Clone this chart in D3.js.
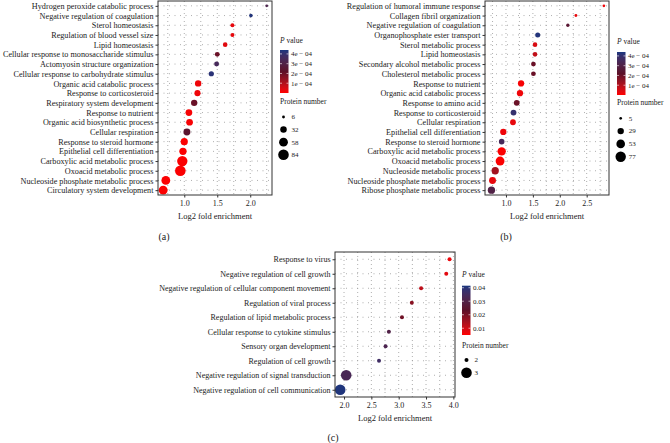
<!DOCTYPE html>
<html><head><meta charset="utf-8">
<script src="https://cdn.jsdelivr.net/npm/d3@7/dist/d3.min.js"></script>
<style>
body{margin:0;background:#fff;}
svg text{font-family:"Liberation Serif","DejaVu Serif",serif;fill:#222;}
</style></head>
<body><svg id="c" width="670" height="443"></svg>
<script>
// ---------- Panel (a) ----------
const termsA = ["Hydrogen peroxide catabolic process","Negative regulation of coagulation","Sterol homeostasis","Regulation of blood vessel size","Lipid homeostasis","Cellular response to monosaccharide stimulus","Actomyosin structure organization","Cellular response to carbohydrate stimulus","Organic acid catabolic process","Response to corticosteroid","Respiratory system development","Response to nutrient","Organic acid biosynthetic process","Cellular respiration","Response to steroid hormone","Epithelial cell differentiation","Carboxylic acid metabolic process","Oxoacid metabolic process","Nucleoside phosphate metabolic process","Circulatory system development"];
const foldA = [2.25,2.01,1.73,1.73,1.62,1.50,1.49,1.41,1.21,1.20,1.15,1.07,1.08,1.04,1.00,0.98,0.97,0.94,0.72,0.68];
const pA = [3.2e-4,4.3e-4,0.3e-4,0.3e-4,0.4e-4,2.0e-4,3.5e-4,4.2e-4,0.2e-4,0.2e-4,2.0e-4,0.1e-4,0.1e-4,2.4e-4,0.05e-4,0.05e-4,0.05e-4,0.05e-4,0.05e-4,0.05e-4];
const countA = [6,10,12,12,16,18,18,20,30,28,30,34,34,36,38,40,80,84,58,58];
const xTicksA = [1.0,1.5,2.0];
const pTicksA = [4e-4,3e-4,2e-4,1e-4];
const pLabelsA = ["4e − 04","3e − 04","2e − 04","1e − 04"];
const sizeTicksA = [6,32,58,84];

// ---------- Panel (b) ----------
const termsB = ["Regulation of humoral immune response","Collagen fibril organization","Negative regulation of coagulation","Organophosphate ester transport","Sterol metabolic process","Lipid homeostasis","Secondary alcohol metabolic process","Cholesterol metabolic process","Response to nutrient","Organic acid catabolic process","Response to amino acid","Response to corticosteroid","Cellular respiration","Epithelial cell differentiation","Response to steroid hormone","Carboxylic acid metabolic process","Oxoacid metabolic process","Nucleoside metabolic process","Nucleoside phosphate metabolic process","Ribose phosphate metabolic process"];
const foldB = [2.82,2.30,2.15,1.59,1.54,1.54,1.51,1.51,1.28,1.26,1.20,1.14,1.13,0.95,0.92,0.92,0.89,0.80,0.75,0.73];
const pB = [0.2e-4,0.3e-4,2.5e-4,4.3e-4,0.5e-4,0.8e-4,2.0e-4,2.0e-4,0.1e-4,0.2e-4,2.0e-4,4.0e-4,0.3e-4,0.2e-4,3.5e-4,0.05e-4,0.05e-4,1.2e-4,0.3e-4,3.0e-4];
const countB = [5,6,8,18,15,15,16,16,28,28,24,24,24,28,22,50,56,38,34,38];
const xTicksB = [1.0,1.5,2.0,2.5];
const pTicksB = [4e-4,3e-4,2e-4,1e-4];
const pLabelsB = ["4e − 04","3e − 04","2e − 04","1e − 04"];
const sizeTicksB = [5,29,53,77];

// ---------- Panel (c) ----------
const termsC = ["Response to virus","Negative regulation of cell growth","Negative regulation of cellular component movement","Regulation of viral process","Regulation of lipid metabolic process","Cellular response to cytokine stimulus","Sensory organ development","Regulation of cell growth","Negative regulation of signal transduction","Negative regulation of cell communication"];
const foldC = [3.93,3.87,3.41,3.24,3.06,2.82,2.76,2.64,2.04,1.93];
const pC = [0.007,0.008,0.012,0.018,0.021,0.030,0.032,0.036,0.033,0.041];
const countC = [2,2,2,2,2,2,2,2,3,3];
const xTicksC = [2.0,2.5,3.0,3.5,4.0];
const pTicksC = [0.04,0.03,0.02,0.01];
const pLabelsC = ["0.04","0.03","0.02","0.01"];
const sizeTicksC = [2,3];

const svg = d3.select("#c");
const defs = svg.append("defs");

function panel(o){
  const g = svg.append("g");
  const x = d3.scaleLinear().domain(o.xDom).range([o.x0,o.x1]);
  const y = d3.scalePoint().domain(o.terms).range([o.y0,o.y1]).padding(0.5);
  const col = d3.scaleLinear().domain(o.pDom).range(["#ff0000","#5c1028","#19367f"]).interpolate(d3.interpolateLab).clamp(true);
  const r = o.rScale;
  // grid
  const minor = d3.range(Math.ceil(o.xDom[0]/0.25)*0.25, o.xDom[1], 0.25);
  g.selectAll(".vg").data(minor).join("line")
    .attr("x1",d=>x(d)).attr("x2",d=>x(d)).attr("y1",o.y0).attr("y2",o.y1)
    .attr("stroke","#9a9a9a").attr("stroke-width",0.8).attr("stroke-dasharray","1,3");
  g.selectAll(".hg").data(o.terms).join("line")
    .attr("x1",o.x0).attr("x2",o.x1).attr("y1",d=>y(d)).attr("y2",d=>y(d))
    .attr("stroke","#9a9a9a").attr("stroke-width",0.8).attr("stroke-dasharray","1,4.5");
  // points
  g.selectAll(".pt").data(o.terms).join("circle")
    .attr("cx",(d,i)=>x(o.fold[i])).attr("cy",d=>y(d))
    .attr("r",(d,i)=>r(o.count[i])).attr("fill",(d,i)=>col(o.p[i]));
  // box
  g.append("rect").attr("x",o.x0).attr("y",o.y0).attr("width",o.x1-o.x0).attr("height",o.y1-o.y0)
    .attr("fill","none").attr("stroke","#333").attr("stroke-width",1);
  // axes
  const ax = g.append("g").attr("transform",`translate(0,${o.y1})`)
    .call(d3.axisBottom(x).tickValues(o.xTicks).tickFormat(d3.format(".1f")).tickSize(2.5).tickPadding(2.5));
  ax.select(".domain").remove();
  ax.selectAll("text").attr("font-size",o.tickFs).style("font-family","Liberation Serif");
  ax.selectAll("line").attr("stroke","#333");
  const ay = g.append("g").attr("transform",`translate(${o.x0},0)`)
    .call(d3.axisLeft(y).tickSize(2.5).tickPadding(2));
  ay.select(".domain").remove();
  ay.selectAll("text").attr("font-size",o.labFs).style("font-family","Liberation Serif");
  ay.selectAll("line").attr("stroke","#333");
  g.append("text").attr("x",(o.x0+o.x1)/2).attr("y",o.y1+24).attr("text-anchor","middle")
    .attr("font-size",o.tickFs+0.5).text("Log2 fold enrichment");
  g.append("text").attr("x",o.tagX).attr("y",o.tagY).attr("text-anchor","middle")
    .attr("font-size",10).text(o.tag);
  // colour legend
  const L = o.leg;
  const t = g.append("text").attr("x",L.x).attr("y",L.ty).attr("font-size",7.5);
  t.append("tspan").attr("font-style","italic").text("P");
  t.append("tspan").text(" value");
  const gid = "grad"+o.tag.replace(/\W/g,"");
  const grad = defs.append("linearGradient").attr("id",gid).attr("x1",0).attr("x2",0).attr("y1",1).attr("y2",0);
  d3.range(0,1.0001,0.05).forEach(f=>{
    grad.append("stop").attr("offset",f).attr("stop-color",col(o.pDom[0]+f*(o.pDom[2]-o.pDom[0])));
  });
  const cy = d3.scaleLinear().domain([o.pDom[0],o.pDom[2]]).range([L.cb1,L.cb0]);
  g.append("rect").attr("x",L.x).attr("y",L.cb0).attr("width",8.5).attr("height",L.cb1-L.cb0).attr("fill",`url(#${gid})`);
  o.pTicks.forEach((v,i)=>{
    g.append("line").attr("x1",L.x).attr("x2",L.x+2).attr("y1",cy(v)).attr("y2",cy(v)).attr("stroke","#fff").attr("stroke-width",0.6);
    g.append("line").attr("x1",L.x+6.5).attr("x2",L.x+8.5).attr("y1",cy(v)).attr("y2",cy(v)).attr("stroke","#fff").attr("stroke-width",0.6);
    g.append("text").attr("x",L.x+11).attr("y",cy(v)).attr("dy","0.33em").attr("font-size",7).text(o.pLabels[i]);
  });
  // size legend
  g.append("text").attr("x",L.x).attr("y",L.sy).attr("font-size",7.5).text("Protein number");
  o.sizeTicks.forEach((v,i)=>{
    const yy = L.s0 + i*L.sStep;
    g.append("circle").attr("cx",L.x+L.sdx).attr("cy",yy).attr("r",r(v)).attr("fill","#000");
    g.append("text").attr("x",L.x+L.sdx+8).attr("y",yy).attr("dy","0.33em").attr("font-size",7).text(v);
  });
}

panel({terms:termsA,fold:foldA,p:pA,count:countA,xTicks:xTicksA,pTicks:pTicksA,pLabels:pLabelsA,sizeTicks:sizeTicksA,
  xDom:[0.6015,2.33],x0:158,x1:272,y0:1,y1:195,pDom:[0,2.2e-4,4.4e-4],
  rScale:d3.scaleSqrt().domain([0,84]).range([0,5.3]),labFs:8.2,tickFs:8,tag:"(a)",tagX:164,tagY:240,
  leg:{x:280,ty:43,cb0:50,cb1:93,sy:104,s0:117,sStep:12.6,sdx:3.5}});
panel({terms:termsB,fold:foldB,p:pB,count:countB,xTicks:xTicksB,pTicks:pTicksB,pLabels:pLabelsB,sizeTicks:sizeTicksB,
  xDom:[0.61,2.915],x0:485,x1:609,y0:1,y1:195,pDom:[0,2.2e-4,4.4e-4],
  rScale:d3.scaleSqrt().domain([0,77]).range([0,5.2]),labFs:8.2,tickFs:8,tag:"(b)",tagX:506,tagY:240,
  leg:{x:617,ty:44,cb0:52,cb1:95,sy:105,s0:118.3,sStep:12.8,sdx:3.7}});
panel({terms:termsC,fold:foldC,p:pC,count:countC,xTicks:xTicksC,pTicks:pTicksC,pLabels:pLabelsC,sizeTicks:sizeTicksC,
  xDom:[1.835,4.03],x0:335,x1:455,y0:252,y1:397,pDom:[0.005,0.02325,0.0415],
  rScale:d3.scaleLinear().domain([2,3]).range([2,5.3]),labFs:8,tickFs:8,tag:"(c)",tagX:333,tagY:441,
  leg:{x:462,ty:277,cb0:285.7,cb1:335,sy:348,s0:360,sStep:12.7,sdx:4.5}});
</script></body></html>
